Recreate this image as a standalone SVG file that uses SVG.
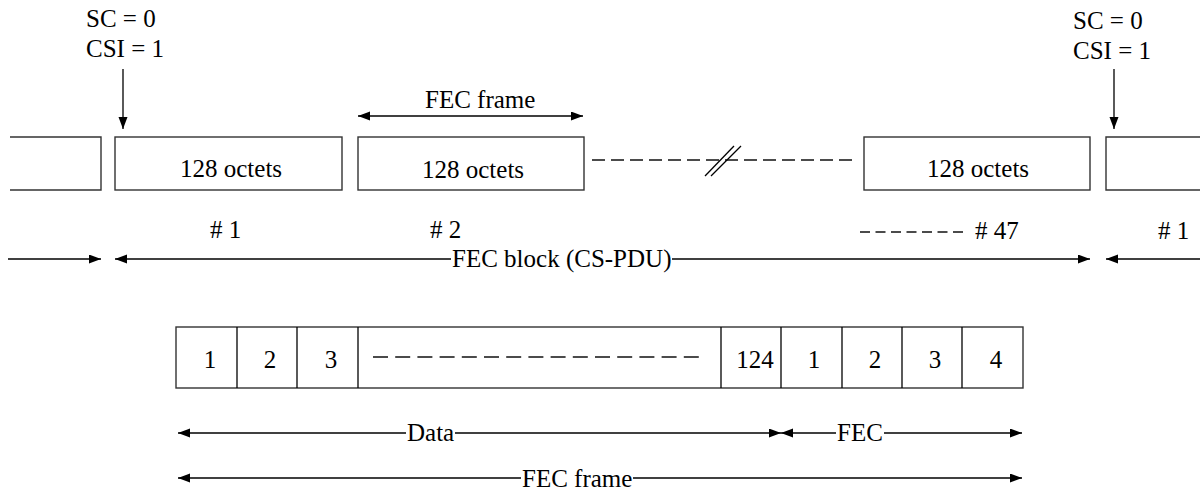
<svg xmlns="http://www.w3.org/2000/svg" width="1200" height="492" viewBox="0 0 1200 492">
<defs>
<marker id="ah" markerUnits="userSpaceOnUse" markerWidth="13" markerHeight="10" refX="12" refY="4.5" orient="auto-start-reverse">
<path d="M0,0 L12,4.5 L0,9 z" fill="#000"/>
</marker>
<style>
text{font-family:"Liberation Serif","Times New Roman",serif;font-size:25px;fill:#000}
.box{fill:#fff;stroke:#333;stroke-width:1.4}
.ln{stroke:#000;stroke-width:1.3;fill:none}
.arr{stroke:#000;stroke-width:1.3;fill:none;marker-end:url(#ah)}
.arr2{stroke:#000;stroke-width:1.3;fill:none;marker-start:url(#ah);marker-end:url(#ah)}
.arrs{stroke:#000;stroke-width:1.3;fill:none;marker-start:url(#ah)}
.dash{stroke:#111;stroke-width:1.3;fill:none;stroke-dasharray:13 6}
.c{text-anchor:middle}
</style>
</defs>
<rect width="1200" height="492" fill="#fff"/>

<g id="label-sc-left">
<text x="86" y="27">SC = 0</text>
<text x="86" y="57">CSI = 1</text>
</g>
<g id="label-sc-right">
<text x="1073" y="29">SC = 0</text>
<text x="1073" y="59">CSI = 1</text>
</g>
<g id="label-fecframe-top"><text x="425" y="108">FEC frame</text></g>

<g id="box-prev"><path class="box" d="M10,137 H101 V190 H10"/></g>
<g id="box-1"><rect class="box" x="115" y="137" width="227" height="53"/><text x="180" y="177">128 octets</text></g>
<g id="box-2"><rect class="box" x="358" y="137" width="226" height="53"/><text x="422" y="178">128 octets</text></g>
<g id="box-47"><rect class="box" x="864" y="137" width="226" height="53"/><text x="927" y="177">128 octets</text></g>
<g id="box-next"><path class="box" d="M1200,137 H1106 V190 H1200"/></g>

<g id="labels-numbers">
<text x="210" y="238"># 1</text>
<text x="430" y="238"># 2</text>
<text x="975" y="239"># 47</text>
<text x="1158" y="239"># 1</text>
</g>
<g id="label-fecblock"><text x="452" y="267">FEC block (CS-PDU)</text></g>

<g id="frame-cells">
<rect class="box" x="176" y="327" width="847" height="61"/>
<g class="ln" stroke="#333">
<line x1="237" y1="327" x2="237" y2="388"/>
<line x1="297" y1="327" x2="297" y2="388"/>
<line x1="358" y1="327" x2="358" y2="388"/>
<line x1="721" y1="327" x2="721" y2="388"/>
<line x1="781" y1="327" x2="781" y2="388"/>
<line x1="842" y1="327" x2="842" y2="388"/>
<line x1="902" y1="327" x2="902" y2="388"/>
<line x1="962" y1="327" x2="962" y2="388"/>
</g>
<text class="c" x="210" y="368">1</text>
<text class="c" x="270" y="368">2</text>
<text class="c" x="331" y="368">3</text>
<text class="c" x="755" y="368">124</text>
<text class="c" x="814" y="368">1</text>
<text class="c" x="875" y="368">2</text>
<text class="c" x="935" y="368">3</text>
<text class="c" x="996" y="368">4</text>
<line class="dash" x1="373" y1="357" x2="706" y2="357" style="stroke-dasharray:15 7.2"/>
</g>

<g id="label-data"><text x="407" y="441">Data</text></g>
<g id="label-fec"><text x="837" y="441">FEC</text></g>
<g id="label-fecframe-bottom"><text x="522" y="487">FEC frame</text></g>

<g id="connectors">
<line class="arr" x1="123" y1="69" x2="123" y2="129"/>
<line class="arr" x1="1114" y1="69" x2="1114" y2="129"/>
<line class="arr2" x1="358" y1="116" x2="583" y2="116"/>
<line class="dash" x1="592" y1="160" x2="858" y2="160"/>
<line class="ln" x1="705" y1="176" x2="734" y2="146" stroke-width="1.6"/>
<line class="ln" x1="711" y1="176" x2="741" y2="146" stroke-width="1.6"/>
<line class="dash" x1="860" y1="232" x2="968" y2="232" style="stroke-dasharray:10 5.5"/>
<line class="arr" x1="8" y1="259" x2="101" y2="259"/>
<line class="arrs" x1="115" y1="259" x2="451" y2="259"/>
<line class="arr" x1="672" y1="259" x2="1090" y2="259"/>
<line class="arr" x1="1200" y1="259" x2="1106" y2="259"/>
<line class="arrs" x1="178" y1="433" x2="406" y2="433"/>
<line class="arr" x1="455" y1="433" x2="781" y2="433"/>
<line class="arrs" x1="781" y1="433" x2="836" y2="433"/>
<line class="arr" x1="884" y1="433" x2="1022" y2="433"/>
<line class="arrs" x1="178" y1="478" x2="521" y2="478"/>
<line class="arr" x1="633" y1="478" x2="1022" y2="478"/>
</g>
</svg>
